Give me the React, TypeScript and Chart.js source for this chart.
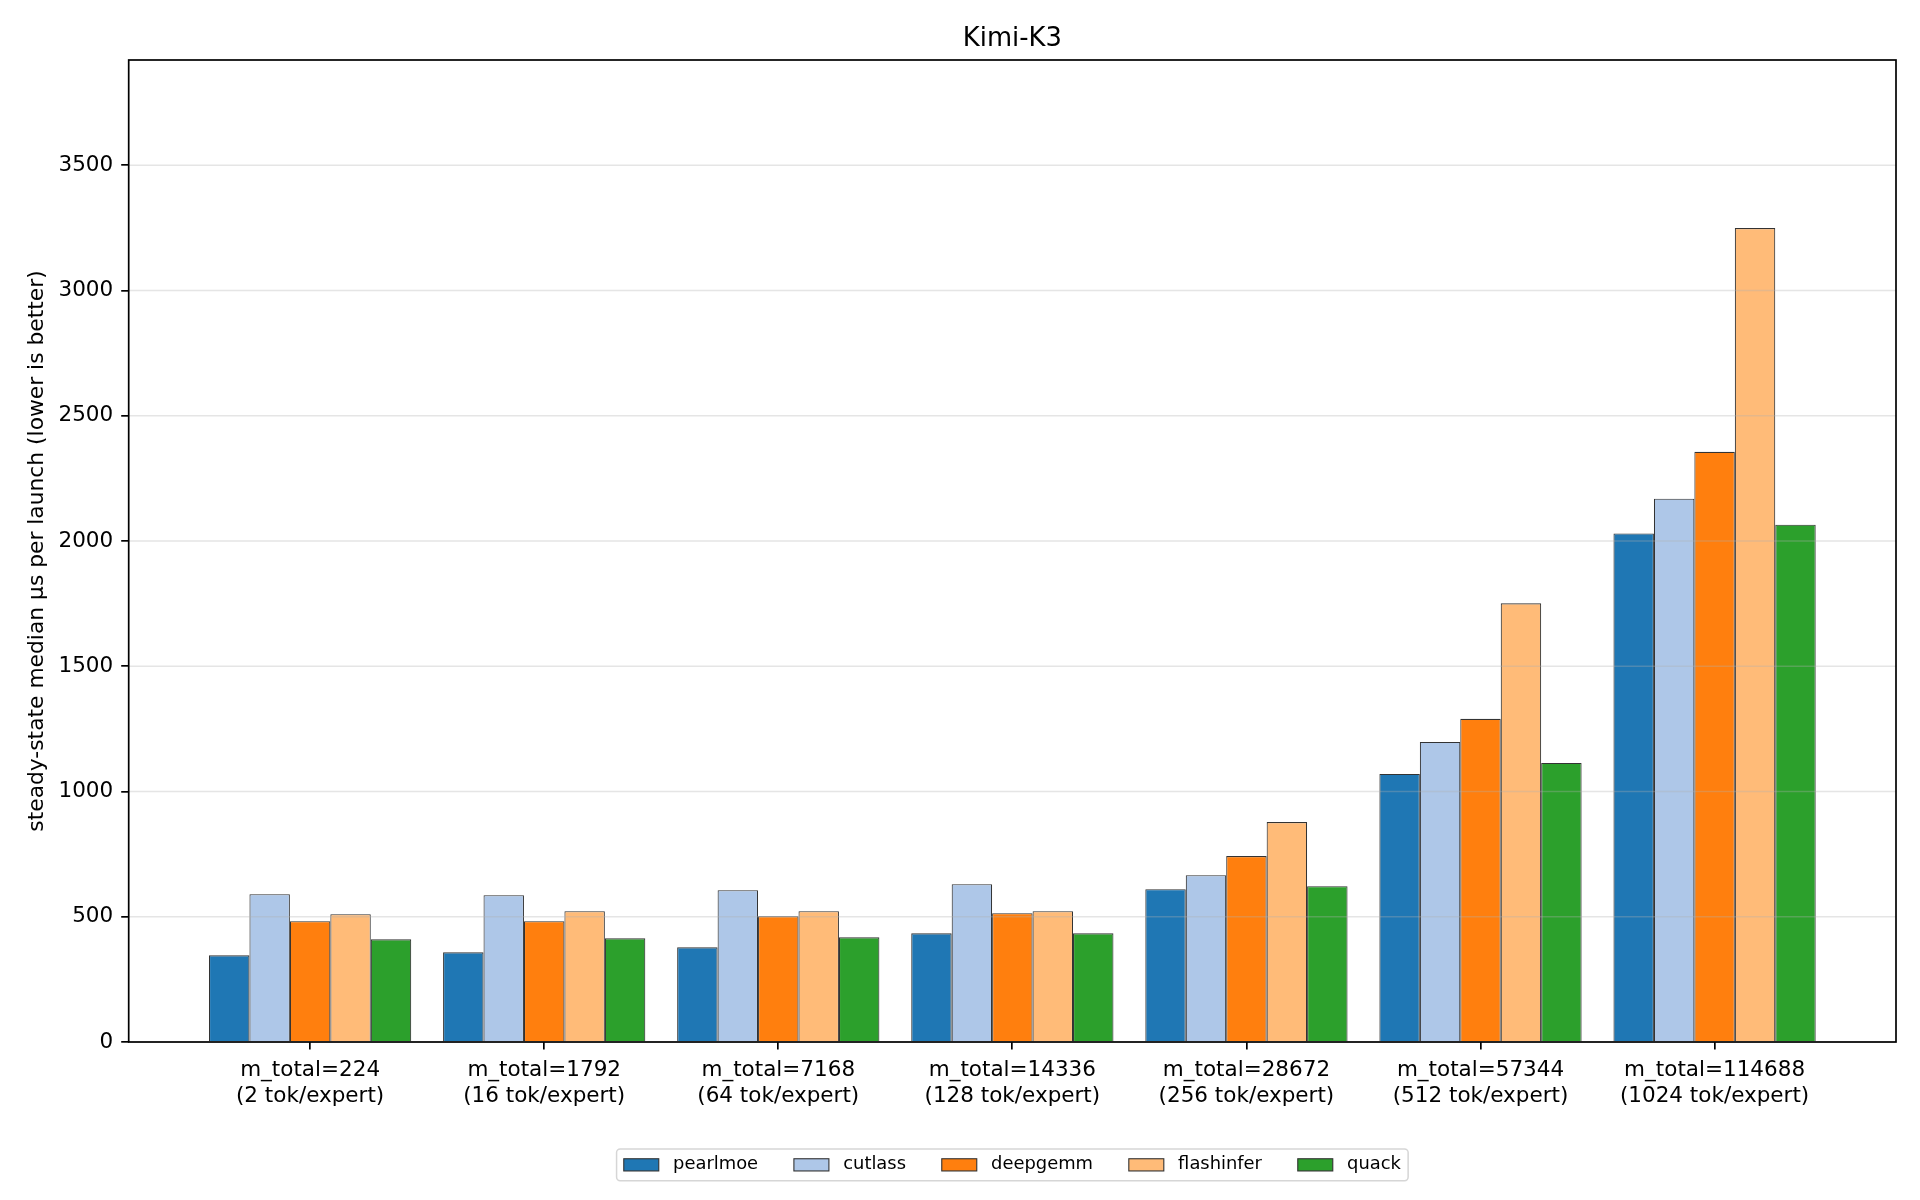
import React, { useEffect, useRef } from "react";
import { Chart, registerables } from "chart.js";

Chart.register(...registerables);

// ---- data ----
const M_TOTAL = [224, 1792, 7168, 14336, 28672, 57344, 114688];
const TOK_PER_EXPERT = [2, 16, 64, 128, 256, 512, 1024];
const SERIES_NAMES = ["pearlmoe", "cutlass", "deepgemm", "flashinfer", "quack"];
const PEARLMOE = [346, 358, 378, 434, 610, 1070, 2030];
const CUTLASS = [590, 586, 606, 630, 666, 1198, 2169];
const DEEPGEMM = [482, 482, 502, 514, 742, 1290, 2356];
const FLASHINFER = [510, 522, 522, 522, 878, 1751, 3249];
const QUACK = [410, 414, 418, 434, 622, 1114, 2065];
const Y_TICKS = [0, 500, 1000, 1500, 2000, 2500, 3000, 3500];
const TITLE = "Kimi-K3";
const Y_LABEL = "steady-state median µs per launch (lower is better)";

const SERIES_VALUES = [PEARLMOE, CUTLASS, DEEPGEMM, FLASHINFER, QUACK];
const COLORS = ["#1f77b4", "#aec7e8", "#ff7f0e", "#ffbb78", "#2ca02c"];
const FONT = '"DejaVu Sans", "Liberation Sans", sans-serif';
const X_LABELS = M_TOTAL.map((m, i) => [`m_total=${m}`, `(${TOK_PER_EXPERT[i]} tok/expert)`]);

const decor = {
  id: "decor",
  afterDatasetsDraw(chart: any) {
    const { ctx, chartArea: a, scales } = chart;
    const y = scales.y;
    ctx.save();
    // grid lines drawn over bars (as in matplotlib)
    ctx.strokeStyle = "rgba(176,176,176,0.33)";
    ctx.lineWidth = 1.5;
    for (const v of Y_TICKS) {
      const py = y.getPixelForValue(v);
      ctx.beginPath();
      ctx.moveTo(a.left, py);
      ctx.lineTo(a.right, py);
      ctx.stroke();
    }
    // spines
    ctx.strokeStyle = "#000";
    ctx.lineWidth = 1.7;
    ctx.strokeRect(a.left, a.top, a.right - a.left, a.bottom - a.top);
    ctx.restore();
  },
  afterDraw(chart: any) {
    const { ctx, chartArea: a } = chart;
    const cx = (a.left + a.right) / 2;
    ctx.save();
    // title
    ctx.fillStyle = "#000";
    ctx.font = `25.8px ${FONT}`;
    ctx.textAlign = "center";
    ctx.textBaseline = "alphabetic";
    ctx.fillText(TITLE, cx, a.top - 14);
    // y label
    ctx.save();
    ctx.translate(37, (a.top + a.bottom) / 2);
    ctx.rotate(-Math.PI / 2);
    ctx.font = `21.8px ${FONT}`;
    ctx.textAlign = "center";
    ctx.textBaseline = "middle";
    ctx.fillText(Y_LABEL, 0, 0);
    ctx.restore();
    // legend
    const fs = 17.9;
    ctx.font = `${fs}px ${FONT}`;
    const pad = 7.2;
    const handleW = 35;
    const handleH = 12.2;
    const textPad = 14.3;
    const colSp = 35.8;
    const widths = SERIES_NAMES.map((n) => ctx.measureText(n).width);
    let total = pad * 2;
    widths.forEach((w, i) => {
      total += handleW + textPad + w + (i < widths.length - 1 ? colSp : 0);
    });
    const top = 1149;
    const bottom = 1180.7;
    const left = cx - total / 2;
    const midY = (top + bottom) / 2;
    ctx.fillStyle = "rgba(255,255,255,0.8)";
    ctx.strokeStyle = "#d6d6d6";
    ctx.lineWidth = 1.5;
    ctx.beginPath();
    (ctx as any).roundRect(left, top, total, bottom - top, 3.6);
    ctx.fill();
    ctx.stroke();
    let x = left + pad;
    SERIES_NAMES.forEach((n, i) => {
      ctx.fillStyle = COLORS[i];
      ctx.fillRect(x, midY - handleH / 2, handleW, handleH);
      ctx.strokeStyle = "#333";
      ctx.lineWidth = 1.1;
      ctx.strokeRect(x, midY - handleH / 2, handleW, handleH);
      x += handleW + textPad;
      ctx.fillStyle = "#000";
      ctx.textAlign = "left";
      ctx.textBaseline = "middle";
      ctx.fillText(n, x, midY);
      x += widths[i] + colSp;
    });
    ctx.restore();
  },
};

export default function App() {
  const ref = useRef<HTMLCanvasElement | null>(null);
  useEffect(() => {
    document.body.style.margin = "0";
    document.body.style.overflow = "hidden";
    const canvas = ref.current;
    if (!canvas) return;
    const chart = new Chart(canvas, {
      type: "bar",
      data: {
        datasets: SERIES_NAMES.map((name, si) => ({
          label: name,
          data: SERIES_VALUES[si].map((v, i) => ({ x: i, y: v })),
          backgroundColor: COLORS[si],
          borderColor: "#333333",
          borderWidth: 1.1,
          categoryPercentage: 0.864,
          barPercentage: 1.0,
        })),
      },
      options: {
        animation: false,
        responsive: true,
        maintainAspectRatio: false,
        events: [],
        layout: { padding: { left: 0, right: 24, top: 60, bottom: 0 } },
        plugins: {
          legend: { display: false },
          title: { display: false },
          tooltip: { enabled: false },
        },
        scales: {
          x: {
            type: "linear",
            min: -0.775,
            max: 6.775,
            offset: false,
            afterBuildTicks: (scale: any) => {
              scale.ticks = M_TOTAL.map((_, i) => ({ value: i }));
            },
            afterFit: (scale: any) => {
              scale.height = 158;
            },
            grid: {
              display: true,
              offset: false,
              drawOnChartArea: false,
              drawTicks: true,
              tickLength: 7.5,
              tickColor: "#000",
              tickWidth: 1.7,
              color: "#000",
              lineWidth: 1.7,
            },
            border: { display: false },
            ticks: {
              autoSkip: false,
              maxRotation: 0,
              minRotation: 0,
              padding: 7.2,
              color: "#000",
              font: { family: FONT, size: 21.5, lineHeight: 1.242 },
              callback: (value: any) => X_LABELS[Math.round(Number(value))] ?? "",
            },
          },
          y: {
            type: "linear",
            min: 0,
            max: 3920,
            afterBuildTicks: (scale: any) => {
              scale.ticks = Y_TICKS.map((v) => ({ value: v }));
            },
            afterFit: (scale: any) => {
              scale.width = 128.7;
            },
            grid: {
              display: true,
              drawOnChartArea: false,
              drawTicks: true,
              tickLength: 7.5,
              tickColor: "#000",
              tickWidth: 1.7,
              color: "#000",
              lineWidth: 1.7,
            },
            border: { display: false },
            ticks: {
              padding: 8,
              color: "#000",
              font: { family: FONT, size: 21.5 },
              callback: (value: any) => String(value),
            },
          },
        },
      },
      plugins: [decor],
    } as any);
    return () => chart.destroy();
  }, []);
  return (
    <div style={{ position: "absolute", left: 0, top: 0, width: 1920, height: 1200, background: "#fff" }}>
      <canvas ref={ref} />
    </div>
  );
}
